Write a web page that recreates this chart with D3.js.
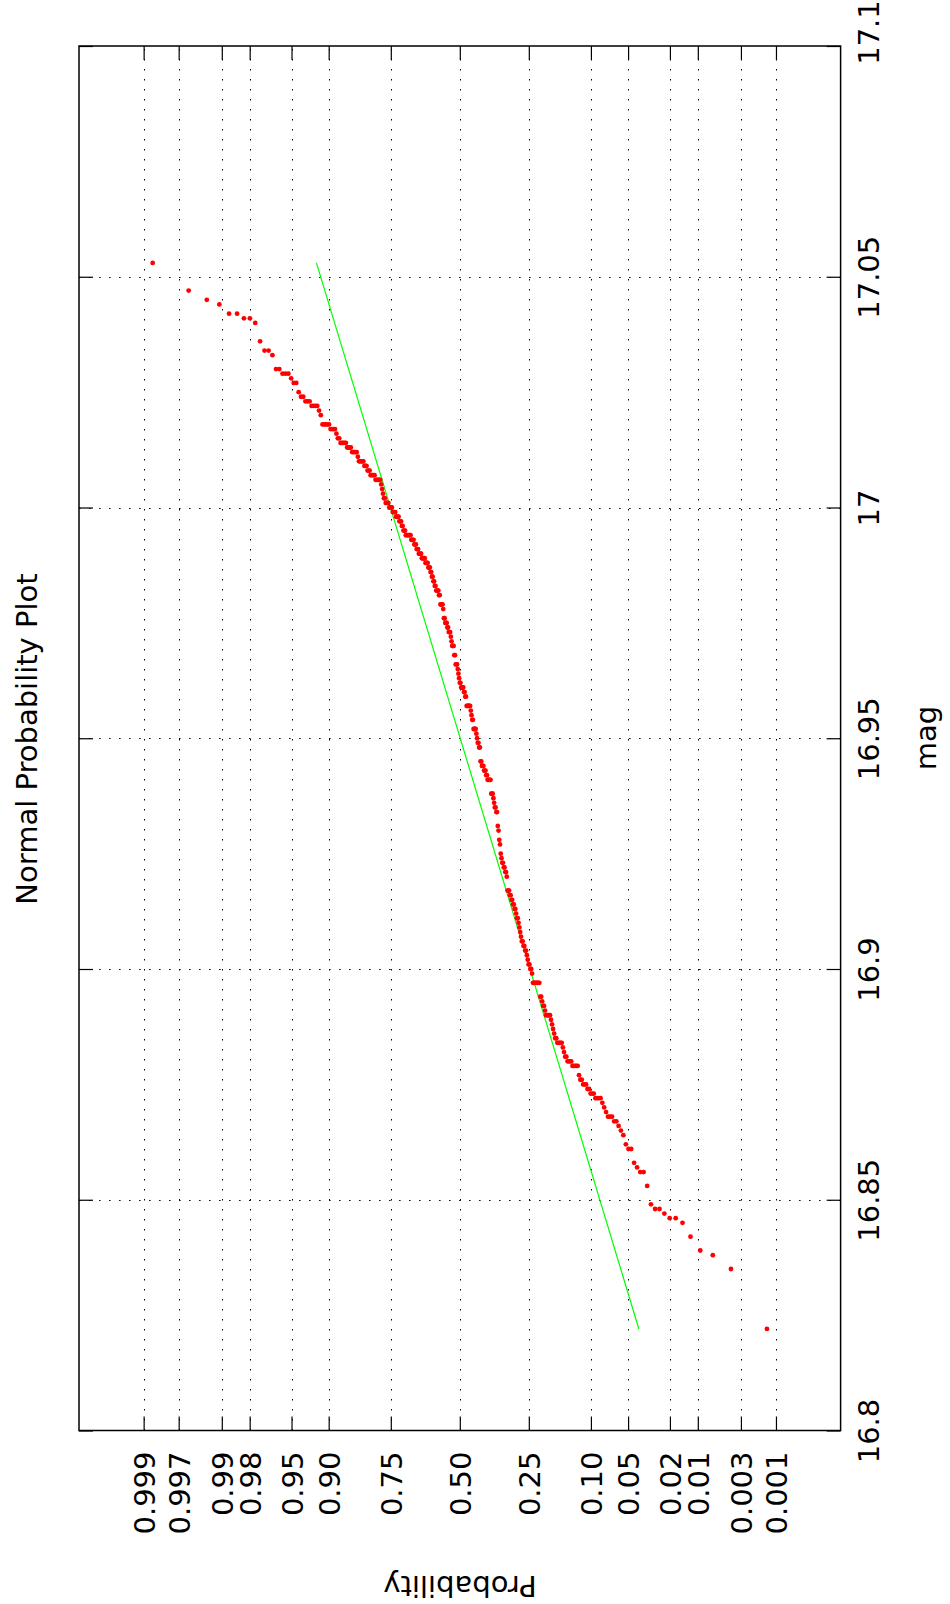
<!DOCTYPE html>
<html><head><meta charset="utf-8">
<script src="https://cdn.jsdelivr.net/npm/d3@7"></script>
<style>html,body{margin:0;padding:0;background:#fff;} text{font-family:"DejaVu Sans",sans-serif;}</style>
</head><body>
<script>
// ---- data ----
// distinct magnitudes (0.001 steps) and the number of observations at each
const magLevels = [17.053,17.047,17.045,17.044,17.042,17.041,17.040,17.036,17.034,17.033,17.030,17.029,17.028,17.027,17.025,17.024,17.023,17.022,17.021,17.020,17.018,17.017,17.016,17.015,17.014,17.013,17.012,17.011,17.010,17.009,17.008,17.007,17.006,17.005,17.004,17.003,17.002,17.001,17.000,
16.999,16.998,16.997,16.996,16.995,16.994,16.993,16.992,16.991,16.990,16.989,16.988,16.987,16.986,16.985,16.984,16.983,16.982,16.981,16.979,16.978,16.976,16.975,16.974,16.973,16.972,16.971,16.970,16.968,16.966,16.965,16.964,16.963,16.962,16.961,16.960,16.959,16.957,16.956,16.955,16.954,16.952,16.951,16.950,16.949,16.948,16.945,16.944,16.943,16.942,16.941,16.938,16.937,16.936,16.935,16.934,16.931,16.930,16.928,16.927,16.925,16.924,16.923,16.922,16.921,16.920,16.917,16.916,16.915,16.914,16.913,16.912,16.911,16.910,16.909,16.908,16.907,16.906,16.905,16.904,16.903,16.902,16.901,16.900,16.899,16.897,16.894,16.893,16.892,16.891,16.890,16.889,16.888,16.887,16.886,16.885,16.884,16.883,16.882,16.881,16.880,16.879,16.877,16.876,16.875,16.874,16.873,16.872,16.871,16.870,16.869,16.868,16.867,16.866,16.865,16.864,16.862,16.861,16.858,16.857,16.856,16.853,16.849,16.848,16.847,16.846,16.845,16.842,16.839,16.838,16.835,16.822];
const magCounts = [1,1,1,1,2,2,1,1,2,1,2,3,1,2,1,2,3,4,1,1,5,4,1,2,5,4,5,1,5,3,3,5,6,1,1,1,2,4,4,
4,4,3,2,3,7,4,3,3,4,5,4,3,2,2,2,2,4,2,4,1,2,3,2,3,1,1,3,2,3,1,1,1,2,4,2,2,6,1,1,2,4,1,1,2,2,2,3,3,2,5,3,1,1,2,2,1,1,1,1,1,1,2,2,2,1,3,2,2,2,2,1,2,1,1,1,1,2,2,2,1,1,2,2,1,8,2,1,2,1,5,1,1,1,1,2,5,1,1,2,4,5,1,2,3,2,3,4,1,1,1,3,2,1,1,1,1,2,1,1,2,1,1,2,1,2,1,1,1,1,1,1];

// fitted normal (green line)
const fitMean = 16.9503;
const fitSigma = 0.0733;

// axes
const magTicks = [16.8, 16.85, 16.9, 16.95, 17, 17.05, 17.1];
const magTickLabels = ["16.8", "16.85", "16.9", "16.95", "17", "17.05", "17.1"];
const probTicks = [0.999, 0.997, 0.99, 0.98, 0.95, 0.90, 0.75, 0.50, 0.25, 0.10, 0.05, 0.02, 0.01, 0.003, 0.001];
const probTickLabels = ["0.999", "0.997", "0.99", "0.98", "0.95", "0.90", "0.75", "0.50", "0.25", "0.10", "0.05", "0.02", "0.01", "0.003", "0.001"];

// inverse standard normal CDF (Acklam)
function invNorm(p) {
  const a = [-3.969683028665376e+01, 2.209460984245205e+02, -2.759285104469687e+02, 1.383577518672690e+02, -3.066479806614716e+01, 2.506628277459239e+00];
  const b = [-5.447609879822406e+01, 1.615858368580409e+02, -1.556989798598866e+02, 6.680131188771972e+01, -1.328068155288572e+01];
  const c = [-7.784894002430293e-03, -3.223964580411365e-01, -2.400758277161838e+00, -2.549732539343734e+00, 4.374664141464968e+00, 2.938163982698783e+00];
  const d = [7.784695709041462e-03, 3.224671290700398e-01, 2.445134137142996e+00, 3.754408661907416e+00];
  const pl = 0.02425, ph = 1 - pl;
  let q, r;
  if (p < pl) { q = Math.sqrt(-2 * Math.log(p)); return (((((c[0]*q+c[1])*q+c[2])*q+c[3])*q+c[4])*q+c[5]) / ((((d[0]*q+d[1])*q+d[2])*q+d[3])*q+1); }
  if (p > ph) { q = Math.sqrt(-2 * Math.log(1 - p)); return -(((((c[0]*q+c[1])*q+c[2])*q+c[3])*q+c[4])*q+c[5]) / ((((d[0]*q+d[1])*q+d[2])*q+d[3])*q+1); }
  q = p - 0.5; r = q * q;
  return (((((a[0]*r+a[1])*r+a[2])*r+a[3])*r+a[4])*r+a[5])*q / (((((b[0]*r+b[1])*r+b[2])*r+b[3])*r+b[4])*r+1);
}

// expand to sorted observations and plotting positions (i-0.5)/n
const obs = [];
magLevels.forEach((m, k) => { for (let j = 0; j < magCounts[k]; j++) obs.push(m); });
obs.sort((a, b) => a - b);
const n = obs.length;
const points = obs.map((m, i) => ({ mag: m, z: invNorm((i + 0.5) / n) }));

// layout (rotated gnuplot plot: mag runs upward, probability runs leftward)
const L = 79, R = 840.6, T = 46, B = 1430.5;
const yMag = d3.scaleLinear().domain([16.8, 17.1]).range([B, T]);
const xZ = d3.scaleLinear().domain([3.722, -3.722]).range([L, R]);

const svg = d3.select("body").append("svg").attr("width", 950).attr("height", 1604);
svg.append("rect").attr("width", 950).attr("height", 1604).attr("fill", "#fff");

// grid
const grid = svg.append("g").attr("stroke", "#000").attr("stroke-width", 1).attr("stroke-dasharray", "1.5,8.5").attr("fill", "none");
probTicks.forEach(p => {
  const x = Math.round(xZ(invNorm(p))) + 0.5;
  grid.append("path").attr("d", `M${x},${B}V${T}`);
});
magTicks.slice(1, -1).forEach(t => {
  const y = Math.round(yMag(t)) + 0.5;
  grid.append("path").attr("d", `M${R},${y}H${L}`);
});

// axes (ticks inward)
const axR = svg.append("g").attr("transform", `translate(${R},0)`)
  .call(d3.axisRight(yMag).tickValues(magTicks).tickFormat((d, i) => magTickLabels[i]).tickSizeInner(-14).tickSizeOuter(0));
const axL = svg.append("g").attr("transform", `translate(${L},0)`)
  .call(d3.axisLeft(yMag).tickValues(magTicks).tickFormat("").tickSizeInner(-14).tickSizeOuter(0));
const probZ = probTicks.map(invNorm);
const axB = svg.append("g").attr("transform", `translate(0,${B})`)
  .call(d3.axisBottom(xZ).tickValues(probZ).tickFormat((d, i) => probTickLabels[i]).tickSizeInner(-14).tickSizeOuter(0));
const axT = svg.append("g").attr("transform", `translate(0,${T})`)
  .call(d3.axisTop(xZ).tickValues(probZ).tickFormat("").tickSizeInner(-14).tickSizeOuter(0));
[axR, axL, axB, axT].forEach(a => {
  a.select(".domain").remove();
  a.selectAll(".tick line").attr("stroke", "#000").attr("stroke-width", 1.2);
});
axR.selectAll(".tick text")
  .attr("x", null).attr("dy", null).attr("y", null)
  .attr("transform", (d, i) => `translate(38,${i === magTicks.length - 1 ? -14 : 0}) rotate(-90)`)
  .attr("text-anchor", "middle").attr("fill", "#000")
  .style("font-size", "29px").style("font-family", "DejaVu Sans");
axB.selectAll(".tick text")
  .attr("x", null).attr("dy", null).attr("y", null)
  .attr("transform", "translate(10.5,21) rotate(-90)")
  .attr("text-anchor", "end").attr("fill", "#000")
  .style("font-size", "29px").style("font-family", "DejaVu Sans");

// frame
svg.append("rect").attr("x", L).attr("y", T).attr("width", R - L).attr("height", B - T)
  .attr("fill", "none").attr("stroke", "#000").attr("stroke-width", 1.5);

// fitted line
const ext = d3.extent(obs);
const fitLine = ext.map(m => ({ mag: m, z: (m - fitMean) / fitSigma }));
svg.append("path").datum(fitLine)
  .attr("d", d3.line().x(d => xZ(d.z)).y(d => yMag(d.mag)))
  .attr("stroke", "#00ff00").attr("stroke-width", 1.2).attr("fill", "none");

// points
svg.append("g").selectAll("circle").data(points).join("circle")
  .attr("cx", d => xZ(d.z)).attr("cy", d => yMag(d.mag)).attr("r", 2.4).attr("fill", "#ff0000");

// titles
svg.append("text").attr("transform", "translate(37,739) rotate(-90)").attr("text-anchor", "middle")
  .style("font-size", "29px").text("Normal Probability Plot");
svg.append("text").attr("transform", "translate(936,738) rotate(-90)").attr("text-anchor", "middle")
  .style("font-size", "29px").text("mag");
svg.append("text").attr("transform", "translate(460,1576) rotate(180)").attr("text-anchor", "middle")
  .style("font-size", "29px").text("Probability");
</script>
</body></html>
